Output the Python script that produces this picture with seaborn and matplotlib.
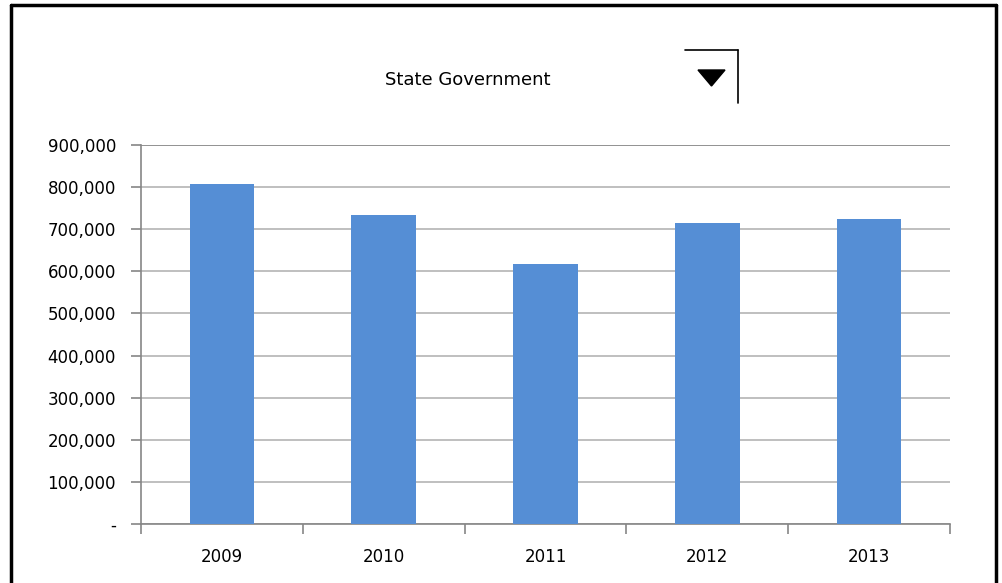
import matplotlib
matplotlib.use("Agg")
import matplotlib.pyplot as plt
import seaborn as sns
import pandas as pd
from matplotlib.ticker import FuncFormatter
from matplotlib.patches import Polygon
from matplotlib.lines import Line2D

years = ["2009", "2010", "2011", "2012", "2013"]
values = [807000, 734000, 617000, 715000, 724000]
title = "State Government"

W, H = 1003, 583
sns.set_style("white")
plt.rcParams['font.family'] = ['DejaVu Sans']
plt.rcParams['text.color'] = 'black'
plt.rcParams['xtick.color'] = 'black'
plt.rcParams['ytick.color'] = 'black'

fig = plt.figure(figsize=(W / 100, H / 100), dpi=100)
ax = fig.add_axes([141 / W, 1 - 524 / H, (950 - 141) / W, (524 - 145) / H])

df = pd.DataFrame({"year": years, "value": values})
sns.barplot(data=df, x="year", y="value", color="#558ED5", saturation=1,
            width=0.4, linewidth=0, ax=ax, zorder=3)

ax.set_ylim(0, 900000)
ax.set_xlim(-0.5, len(years) - 0.5)
ax.set_yticks(range(0, 900001, 100000))
ax.yaxis.set_major_formatter(FuncFormatter(lambda v, p: "-" if v == 0 else f"{int(v):,}"))
ax.yaxis.grid(True, color="#b4b4b4", lw=1.2, zorder=0)
ax.set_axisbelow(True)
ax.set_xlabel("")
ax.set_ylabel("")

for s in ["top", "right"]:
    ax.spines[s].set_visible(False)
for s in ["left", "bottom"]:
    ax.spines[s].set_color("#868686")
    ax.spines[s].set_linewidth(1.2)
# top gridline drawn darker like the reference
ax.axhline(900000, color="#8c8c8c", lw=1.2, zorder=1)

# category boundary ticks on the x axis
ax.set_xticks([i - 0.5 for i in range(len(years) + 1)], minor=True)
ax.tick_params(axis="x", which="minor", length=7, color="#868686", width=1.2, direction="out")
ax.tick_params(axis="x", which="major", length=0, labelsize=12, pad=17, labelcolor="black")
ax.tick_params(axis="y", length=7, color="#868686", width=1.2, labelsize=12, pad=11, labelcolor="black")
ax.tick_params(left=True, bottom=True, which="both")

# chart title
fig.text(468 / W, 1 - 80 / H, title, ha="center", va="center", fontsize=13, color="black")

# dropdown control
fig.add_artist(Line2D([685 / W, 738 / W], [1 - 50 / H, 1 - 50 / H], color="black", lw=1.2, transform=fig.transFigure))
fig.add_artist(Line2D([738 / W, 738 / W], [1 - 50 / H, 1 - 103 / H], color="black", lw=1.2, transform=fig.transFigure))
fig.add_artist(Polygon([[698 / W, 1 - 70 / H], [725 / W, 1 - 70 / H], [711.5 / W, 1 - 86 / H]],
                       closed=True, color="black", transform=fig.transFigure))

# outer frame
for xs, ys in [([11.5, 996.5], [4.5, 4.5]), ([11.5, 11.5], [4.5, 590]), ([996.5, 996.5], [4.5, 590])]:
    fig.add_artist(Line2D([x / W for x in xs], [1 - y / H for y in ys], color="black", lw=2.5,
                          transform=fig.transFigure))

fig.savefig("out.png", dpi=100)
